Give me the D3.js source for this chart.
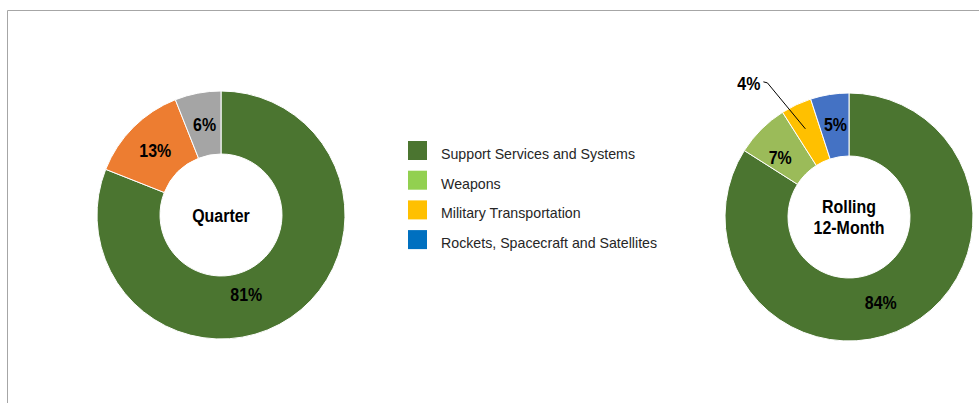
<!DOCTYPE html>
<html><head><meta charset="utf-8">
<script src="https://cdn.jsdelivr.net/npm/d3@7"></script>
<style>
html,body{margin:0;padding:0;background:#fff;}
svg{display:block;}
</style></head>
<body>
<svg id="c" width="979" height="403"></svg>
<script>
// Data
const quarterCategories = ["Support Services and Systems", "Other", "Other 2"];
const quarterValues = [81, 13, 6];
const quarterColors = ["#4b7530", "#ed7d31", "#a5a5a5"];

const rollingCategories = ["Support Services and Systems", "Weapons", "Military Transportation", "Rockets, Spacecraft and Satellites"];
const rollingValues = [84, 7, 4, 5];
const rollingColors = ["#4b7530", "#9bbb59", "#ffc000", "#4472c4"];

const legendLabels = ["Support Services and Systems", "Weapons", "Military Transportation", "Rockets, Spacecraft and Satellites"];
const legendColors = ["#4b7530", "#92d050", "#ffc000", "#0070c0"];

const svg = d3.select("#c");
const labelFont = "'Liberation Sans',Arial,sans-serif";
const LFS = 19, SX = 0.84;

// frame
svg.append("path").attr("d", "M7.5,403 V10.5 H979").attr("fill", "none").attr("stroke", "#a6a6a6").attr("stroke-width", 1);

function narrowText(g, x, y, txt, anchor) {
  return g.append("text")
    .attr("transform", `translate(${x},${y}) scale(${SX},1)`)
    .attr("dy", "0.35em")
    .attr("text-anchor", anchor || "middle").attr("font-family", labelFont).attr("font-weight", "bold")
    .attr("font-size", LFS).attr("fill", "#000").text(txt);
}

function donut(cx, cy, values, colors, centerLines, labelNudges, outsideIdx) {
  const g = svg.append("g").attr("transform", `translate(${cx},${cy})`);
  const pie = d3.pie().sort(null).value(d => d);
  const arcs = pie(values);
  const arc = d3.arc().innerRadius(61).outerRadius(124);
  const labelArc = d3.arc().innerRadius(93).outerRadius(93);
  g.selectAll("path.s").data(arcs).join("path").attr("class", "s")
    .attr("d", arc).attr("fill", (d, i) => colors[i])
    .attr("stroke", "#fff").attr("stroke-width", 1);
  arcs.forEach((d, i) => {
    const c = labelArc.centroid(d);
    const n = labelNudges[i] || [0, 0];
    if (i === outsideIdx) {
      const lx = c[0] - 63, ly = c[1] - 51;
      g.append("path").attr("d", `M${c[0] - 4},${c[1] - 4} L${lx + 21},${ly + 1} L${lx + 17},${ly}`)
        .attr("fill", "none").attr("stroke", "#000").attr("stroke-width", 1);
      narrowText(g, lx + 14, ly + 1, values[i] + "%", "end");
    } else {
      narrowText(g, c[0] + n[0], c[1] + n[1], values[i] + "%");
    }
  });
  const lh = 21;
  centerLines.forEach((t, i) => {
    narrowText(g, 0, (i - (centerLines.length - 1) / 2) * lh, t);
  });
}

donut(221, 215, quarterValues, quarterColors, ["Quarter"], [[-27, 2], [0, 1], [1, 1]], -1);
donut(849, 217, rollingValues, rollingColors, ["Rolling", "12-Month"], [[-13, 4], [-3, 6], [0, 0], [1, -1]], 2);

// legend
const lg = svg.append("g").attr("transform", "translate(408,141)");
const items = lg.selectAll("g").data(legendLabels).join("g")
  .attr("transform", (d, i) => `translate(0,${i * 29.7})`);
items.append("rect").attr("width", 19).attr("height", 19).attr("fill", (d, i) => legendColors[i]);
items.append("text").attr("x", 33).attr("y", 13).attr("dy", "0.35em")
  .attr("font-family", "'Liberation Sans',Arial,sans-serif").attr("font-size", 14.2)
  .attr("fill", "#262626").text(d => d);
</script>
</body></html>
